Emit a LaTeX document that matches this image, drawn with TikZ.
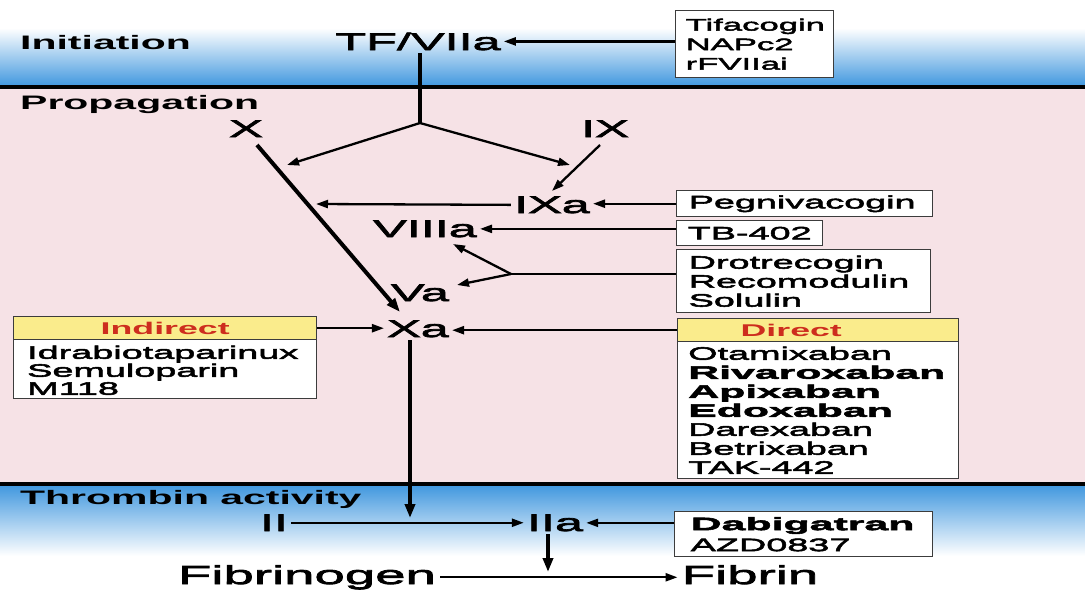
\documentclass[tikz,border=0pt]{standalone}
\usepackage{fontspec}
\setmainfont{Liberation Sans}[FakeStretch=2.1]
\newfontfamily\fmed{Liberation Sans}[FakeStretch=2.1,FakeBold=3]
\newfontfamily\fbold{Liberation Sans Bold}[FakeStretch=2.1]
\newfontfamily\fheavy{Liberation Sans Bold}[FakeStretch=2.38,FakeBold=3]
\usetikzlibrary{arrows.meta}

\definecolor{bandblue}{RGB}{62,150,222}
\definecolor{pinkbg}{RGB}{246,226,230}
\definecolor{boxgrey}{RGB}{60,60,60}
\definecolor{hdryellow}{RGB}{250,236,140}
\definecolor{hdrred}{RGB}{205,45,30}

\tikzset{
  lbl/.style={font=\fmed\fontsize{24}{26}\selectfont, inner sep=3pt, anchor=base},
  biglbl/.style={font=\fmed\fontsize{26}{28}\selectfont, inner sep=4pt, anchor=base},
  bandlbl/.style={font=\fbold\fontsize{19.5}{21}\selectfont, inner sep=0pt, anchor=base west},
  drugbox/.style={draw=boxgrey, line width=1.4pt, fill=white, inner xsep=0pt,
    inner ysep=0pt, anchor=north west, align=left, font=\fmed\fontsize{18}{19}\selectfont},
  listtext/.style={inner sep=0pt, anchor=north west, align=left},
  hdr/.style={draw=boxgrey, line width=1.4pt, fill=hdryellow, anchor=north west,
    inner sep=0pt, text=hdrred, font=\fbold\fontsize{17}{18}\selectfont},
  sepline/.style={line width=3.5pt, black},
  arr/.style={-{Triangle[length=12pt,width=8pt]}, line width=2.3pt},
  fatarr/.style={-{Triangle[length=14pt,width=10pt]}, line width=4pt},
  fatline/.style={line width=4pt},
  plain/.style={line width=2.3pt}
}

\begin{document}
\begin{tikzpicture}[x=1pt,y=-1pt]
\useasboundingbox (0,0) rectangle (1085,590);

% background bands
\fill[white] (0,0) rectangle (1085,590);
\shade[top color=white, bottom color=bandblue] (0,28) rectangle (1085,87);
\fill[pinkbg] (0,87) rectangle (1085,484);
\shade[top color=bandblue, bottom color=white] (0,484) rectangle (1085,556);
\draw[sepline] (0,87) -- (1085,87);
\draw[sepline] (0,484) -- (1085,484);

% phase titles
\node[bandlbl] (initiation) at (20,49) {Initiation};
\node[bandlbl] (propagation) at (20,109) {Propagation};
\node[bandlbl] (thrombin) at (20,504) {Thrombin activity};

% coagulation factors
\node[lbl] (tf) at (418,50) {TF/VIIa};
\node[lbl] (x) at (246,137) {X};
\node[lbl] (ix) at (605,137) {IX};
\node[lbl] (ixa) at (552,213) {IXa};
\node[lbl] (viiia) at (425,237) {VIIIa};
\node[lbl] (va) at (420,301) {Va};
\node[lbl] (xa) at (418,337) {Xa};
\node[lbl] (ii) at (274,531) {II};
\node[lbl] (iia) at (555,531) {IIa};
\node[biglbl] (fibg) at (307,584) {Fibrinogen};
\node[biglbl] (fibr) at (750,584) {Fibrin};

% inhibitor boxes
\node[drugbox, font=\fmed\fontsize{16.5}{19.5}\selectfont,
  minimum width=158pt, minimum height=67pt, text width=138pt] (tifa) at (675,10)
  {Tifacogin\\NAPc2\\rFVIIai};
\node[drugbox, minimum width=256pt, minimum height=26pt, text width=232pt] (peg) at (676,190)
  {Pegnivacogin};
\node[drugbox, inner xsep=11pt, minimum height=25pt] (tb) at (676,220)
  {TB-402};
\node[drugbox, minimum width=254pt, minimum height=63pt, text width=230pt] (drot) at (676,249)
  {Drotrecogin\\Recomodulin\\Solulin};
\node[drugbox, font=\fmed\fontsize{18}{21}\selectfont,
  minimum width=258pt, minimum height=45pt, text width=226pt] (dab) at (674,511)
  {{\fheavy Dabigatran}\\AZD0837};

% indirect factor Xa inhibitors
\node[drugbox, minimum width=303pt, minimum height=82pt] (indbox) at (13,316) {};
\node[hdr, minimum width=303pt, minimum height=23pt] (indhdr) at (13,316) {Indirect};
\node[listtext, font=\fmed\fontsize{18}{18}\selectfont, text width=280pt] (indlist) at (27,345.5)
  {Idrabiotaparinux\\Semuloparin\\M118};

% direct factor Xa inhibitors
\node[drugbox, minimum width=281pt, minimum height=160pt] (dirbox) at (677,318) {};
\node[hdr, minimum width=281pt, minimum height=23pt, text width=261pt, align=left] (dirhdr) at (677,318)
  {\hspace*{53pt}Direct};
\node[listtext, font=\fmed\fontsize{18}{19}\selectfont, text width=265pt] (dirlist) at (688,346.5)
  {Otamixaban\\{\fheavy Rivaroxaban}\\{\fheavy Apixaban}\\{\fheavy Edoxaban}\\Darexaban\\Betrixaban\\TAK-442};

% branch points and arrow ends
\coordinate (junc) at (420,123);
\coordinate (tipx) at (287,165);
\coordinate (tipix) at (570,165);
\coordinate (xstart) at (257,145);
\coordinate (xend) at (400,312);
\coordinate (ixstart) at (600,145);
\coordinate (ixend) at (552,191);
\coordinate (ixatip) at (316,204);
\coordinate (split) at (511,274);
\coordinate (tipviii) at (453,244);
\coordinate (tipva) at (457,285);
\coordinate (xadown) at (410,518);
\coordinate (iiadown) at (548,572);

% initiation
\draw[arr] (tifa.west |- tf.east) -- (tf.east);
\draw[fatline] (tf.south -| junc) -- (junc);
\draw[arr] (junc) -- (tipx);
\draw[arr] (junc) -- (tipix);

% propagation
\draw[fatarr] (xstart) -- (xend);
\draw[arr] (ixstart) -- (ixend);
\draw[arr] (ixa.west) -- (ixatip);
\draw[arr] (peg.west) -- (peg.west -| ixa.east);
\draw[arr] (tb.west |- viiia.east) -- (viiia.east);
\draw[plain] (split -| drot.west) -- (split);
\draw[arr] (split) -- (tipviii);
\draw[arr] (split) -- (tipva);
\draw[arr] (indhdr.east) -- (indhdr.east -| xa.west);
\draw[arr] (dirhdr.west) -- (dirhdr.west -| xa.east);
\draw[fatarr] (xadown |- xa.south) -- (xadown);

% thrombin activity
\draw[arr] (ii.east) -- (ii.east -| iia.west);
\draw[arr] (iia.east -| dab.west) -- (iia.east);
\draw[fatarr] (iiadown |- iia.south) -- (iiadown);
\draw[arr] (fibg.east) -- (fibg.east -| fibr.west);
\end{tikzpicture}
\end{document}
